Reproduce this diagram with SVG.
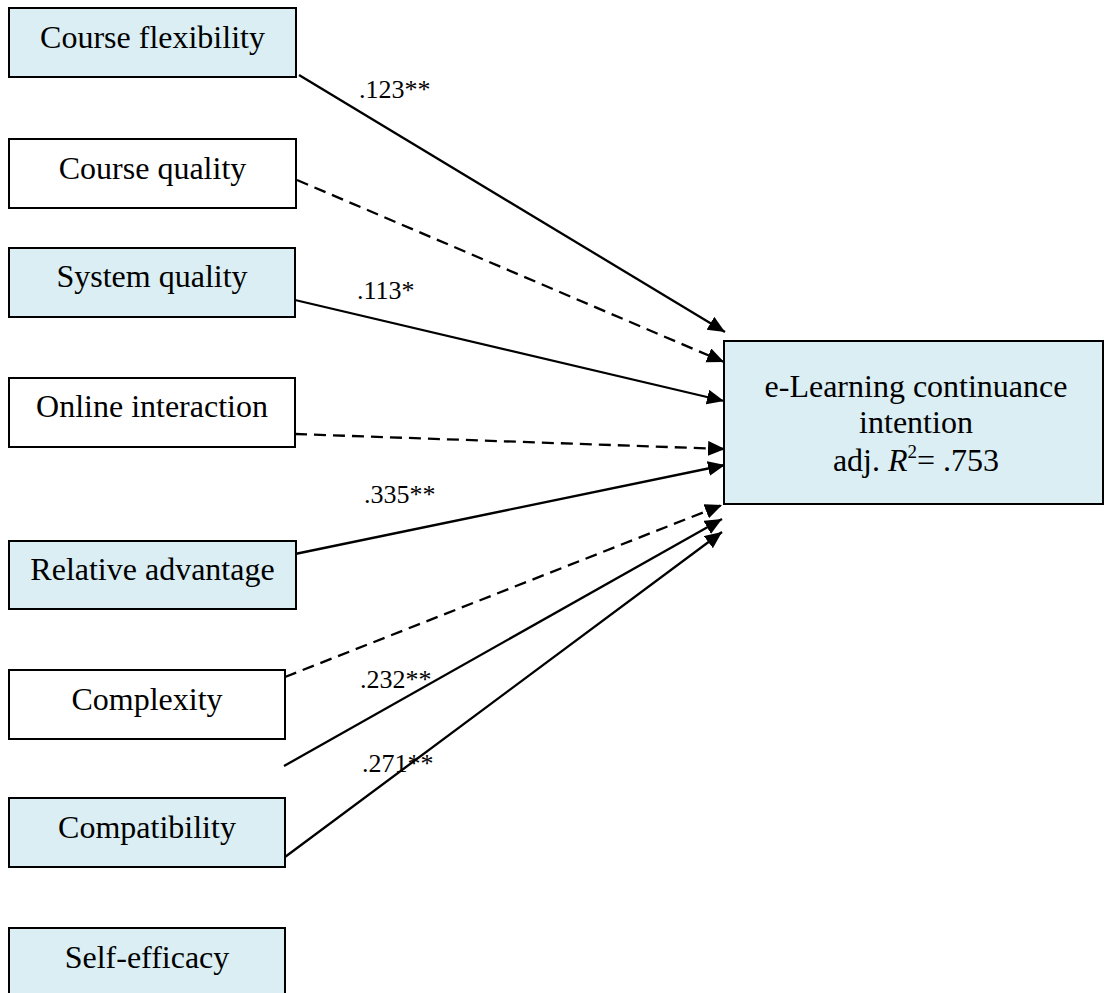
<svg xmlns="http://www.w3.org/2000/svg" width="1106" height="993" viewBox="0 0 1106 993">
<style>
.box{stroke:#000;stroke-width:2}
.hl{fill:#DAEEF3}
.pl{fill:#FFFFFF}
.t{font-family:"Liberation Serif","Times New Roman",serif;font-size:32px;fill:#000;text-anchor:middle}
.lb{font-family:"Liberation Serif","Times New Roman",serif;font-size:26px;fill:#000}
.c{stroke:#000;stroke-width:2.3;fill:none;marker-end:url(#ah)}
.d{stroke-dasharray:12 7}
</style>
<defs>
<marker id="ah" markerUnits="userSpaceOnUse" markerWidth="20" markerHeight="16" refX="17" refY="7.5" orient="auto">
<path d="M0,0 L17,7.5 L0,15 z" fill="#000"/>
</marker>
</defs>
<rect width="1106" height="993" fill="#fff"/>
<g id="connectors">
<line class="c" x1="299" y1="75" x2="725" y2="332"/>
<line class="c d" x1="297" y1="180" x2="724" y2="362"/>
<line class="c" x1="295" y1="300" x2="724" y2="401"/>
<line class="c d" x1="295" y1="434" x2="725" y2="449"/>
<line class="c" x1="295" y1="554" x2="725" y2="465"/>
<line class="c d" x1="285" y1="677" x2="722" y2="505"/>
<line class="c" x1="284" y1="766" x2="722" y2="519"/>
<line class="c" x1="285" y1="857" x2="722" y2="532"/>
</g>
<g id="labels">
<text class="lb" x="359" y="98">.123**</text>
<text class="lb" x="357" y="299">.113*</text>
<text class="lb" x="364" y="503">.335**</text>
<text class="lb" x="360" y="688">.232**</text>
<text class="lb" x="362" y="772">.271**</text>
</g>
<g id="n1"><rect class="box hl" x="9" y="8" width="287" height="69"/><text class="t" x="152.5" y="48">Course flexibility</text></g>
<g id="n2"><rect class="box pl" x="9" y="139" width="287" height="69"/><text class="t" x="152.5" y="179">Course quality</text></g>
<g id="n3"><rect class="box hl" x="9" y="248" width="286" height="69"/><text class="t" x="152" y="287">System quality</text></g>
<g id="n4"><rect class="box pl" x="9" y="378" width="286" height="69"/><text class="t" x="152" y="417">Online interaction</text></g>
<g id="n5"><rect class="box hl" x="9" y="541" width="287" height="68"/><text class="t" x="152.5" y="580">Relative advantage</text></g>
<g id="n6"><rect class="box pl" x="9" y="670" width="276" height="69"/><text class="t" x="147" y="710">Complexity</text></g>
<g id="n7"><rect class="box hl" x="9" y="798" width="276" height="69"/><text class="t" x="147" y="838">Compatibility</text></g>
<g id="n8"><rect class="box hl" x="9" y="928" width="276" height="70"/><text class="t" x="147" y="968">Self-efficacy</text></g>
<g id="target"><rect class="box hl" x="724" y="341" width="379" height="163"/>
<text class="t" x="916" y="397">e-Learning continuance</text>
<text class="t" x="916" y="433">intention</text>
<text class="t" x="916" y="471">adj. <tspan font-style="italic">R</tspan><tspan font-size="19" dy="-13">2</tspan><tspan dy="13">= .753</tspan></text>
</g>
</svg>
